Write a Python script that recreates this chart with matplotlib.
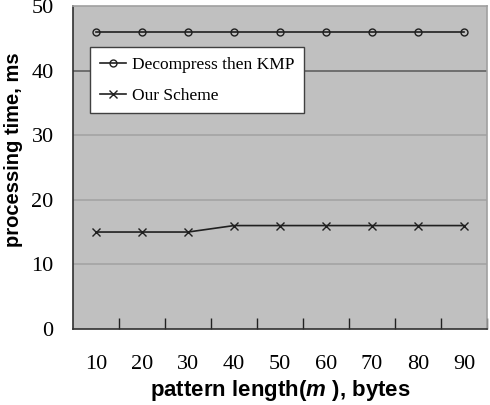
import numpy as np
import matplotlib.pyplot as plt

# data
pattern_len = [10, 20, 30, 40, 50, 60, 70, 80, 90]
kmp_time = [46, 46, 46, 46, 46, 46, 46, 46, 46]
our_time = [15, 15, 15, 16, 16, 16, 16, 16, 16]
y_ticks = [0, 10, 20, 30, 40, 50]

serif = "Liberation Serif"
sans = "Liberation Sans"

plt.rcParams["mathtext.fontset"] = "custom"
plt.rcParams["mathtext.it"] = "Liberation Sans:italic:bold"

fig = plt.figure(figsize=(4.9, 4.05), dpi=100)
ax = fig.add_axes([0.149, 0.188, 0.845, 0.797])
ax.set_facecolor("#c0c0c0")

x = np.arange(len(pattern_len))
ax.plot(x, kmp_time, color="#202020", lw=1.2, marker="o", ms=5,
        mfc="none", mec="#202020", mew=1.0, label="Decompress then KMP")
ax.plot(x, our_time, color="#202020", lw=1.2, marker="x", ms=6,
        mew=1.0, label="Our Scheme")

ax.set_xlim(-0.5, len(pattern_len) - 0.5)
ax.set_ylim(0, 50)
ax.set_yticks(y_ticks)
ax.set_xticks(x)
ax.set_xticklabels([str(v) for v in pattern_len], fontfamily=serif, fontsize=16)
ax.set_yticklabels([str(v) for v in y_ticks], fontfamily=serif, fontsize=16)
ax.tick_params(axis="x", length=0, pad=19)
ax.tick_params(axis="y", length=0, pad=14)
ax.set_xticks(np.arange(0.5, len(pattern_len), 1.0), minor=True)
ax.tick_params(axis="x", which="minor", direction="in", length=8, width=1, color="#202020")
ax.tick_params(axis="y", which="minor", length=0)

# gridlines: the 40 line looks darker in the original
grid_cols = ["#a4a4a4", "#a4a4a4", "#a4a4a4", "#606060"]
for v, c in zip(y_ticks[1:-1], grid_cols):
    ax.axhline(v, color=c, lw=1.2, zorder=0.5)

for side in ["left", "bottom"]:
    ax.spines[side].set_color("#303030")
    ax.spines[side].set_linewidth(1.2)
for side in ["top", "right"]:
    ax.spines[side].set_color("#a0a0a0")
    ax.spines[side].set_linewidth(1.2)

ax.set_ylabel("processing time, ms", fontfamily=sans, fontweight="bold",
              fontsize=14.5)
ax.yaxis.set_label_coords(-0.121, 0.554)
ax.set_xlabel(r"pattern length($\mathit{m}$ ), bytes", fontfamily=sans,
              fontweight="bold", fontsize=16)
ax.xaxis.set_label_coords(0.5, -0.152)

leg = ax.legend(loc="upper left", bbox_to_anchor=(0.041, 0.873), frameon=True,
                fancybox=False, prop={"family": serif, "size": 12.5},
                handlelength=1.55, handletextpad=0.3, borderpad=0.55,
                labelspacing=0.85, borderaxespad=0)
leg.get_frame().set_edgecolor("#404040")
leg.get_frame().set_facecolor("white")
leg.get_frame().set_alpha(1.0)
leg.get_frame().set_linewidth(1.0)

fig.savefig("out.png", dpi=100)
